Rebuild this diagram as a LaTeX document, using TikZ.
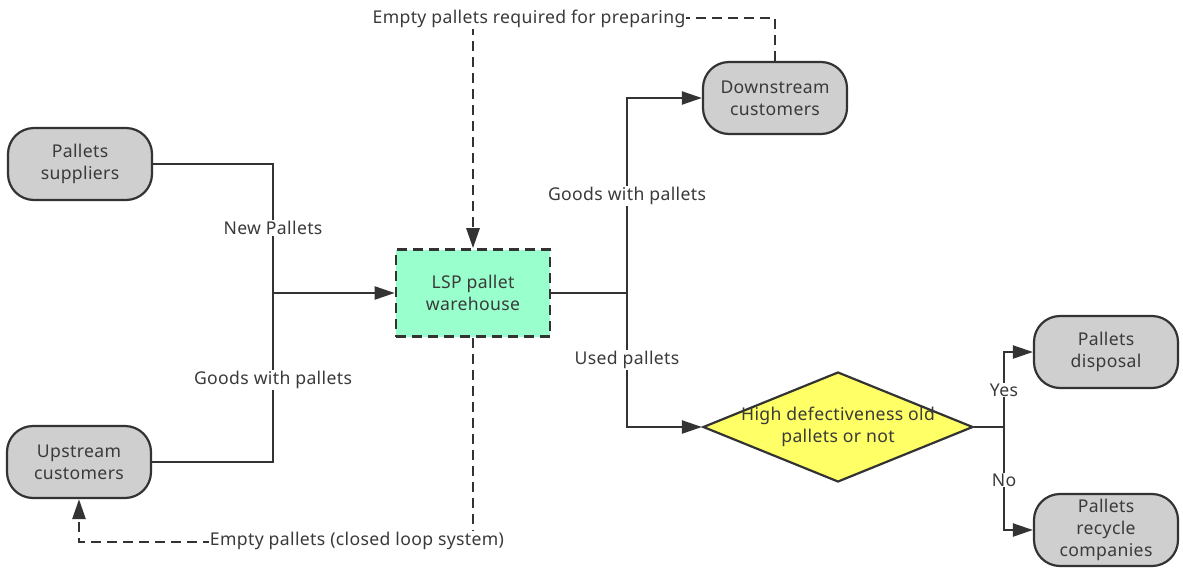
\documentclass[tikz,border=0pt]{standalone}
\usepackage{fontspec}
\setmainfont[LetterSpace=2]{Noto Sans}
\usetikzlibrary{arrows.meta,shapes.geometric,positioning}
\definecolor{linec}{HTML}{333333}
\definecolor{txtc}{HTML}{3A3A3A}
\definecolor{boxfill}{HTML}{CFCFCF}
\definecolor{mint}{HTML}{99FFCC}
\definecolor{yel}{HTML}{FFFF66}
\begin{document}
\begin{tikzpicture}[x=1pt,y=-1pt,
  every node/.style={font=\fontsize{17.6}{22}\selectfont, text=txtc},
  pill/.style={draw=linec, line width=2.2pt, fill=boxfill, rounded corners=26pt,
     minimum width=144pt, minimum height=72pt, align=center, inner sep=0pt},
  conn/.style={draw=linec, line width=2.2pt},
  arr/.style={conn, -{Triangle[length=20pt,width=13pt]}},
  dsh/.style={line width=2.6pt, dash pattern=on 10pt off 6pt},
  lbl/.style={fill=white, inner sep=1pt}
]
\useasboundingbox (0,0) rectangle (1183,568);

\node[pill] (sup) at (80,164) {Pallets\\suppliers};
\node[pill] (ups) at (79,462) {Upstream\\customers};
\node[pill] (down) at (775,98) {Downstream\\customers};
\node[pill] (disp) at (1106,352) {Pallets\\disposal};
\node[pill] (rec) at (1106,530) {Pallets\\recycle\\companies};
\node[draw=linec, dsh, fill=mint,
  minimum width=154pt, minimum height=87pt, align=center, inner sep=0pt] (lsp) at (473,293) {LSP pallet\\warehouse};
\node[diamond, draw=linec, line width=2.2pt, fill=yel, aspect=2.45,
  minimum width=270pt, minimum height=110pt, inner sep=0pt, align=center] (dia) at (838,427) {};
\node[align=center] at (dia.center) {High defectiveness old\\pallets or not};

\coordinate (jl) at (273,293);
\coordinate (jr) at (627,293);
\coordinate (jd) at (1004,427);

% left side
\draw[conn] (sup.east) -| (jl);
\draw[conn] (ups.east) -| (jl);
\draw[arr] (jl) -- (lsp.west);
\node[lbl] at (273,228) {New Pallets};
\node[lbl] at (273,380) {Goods with pallets};

% right side
\draw[conn] (lsp.east) -- (jr);
\draw[arr] (jr) |- (down.west);
\draw[arr] (jr) |- (dia.west);
\node[lbl] at (627,196) {Goods with pallets};
\node[lbl] at (627,360) {Used pallets};

% decision
\draw[conn] (dia.east) -- (jd);
\draw[arr] (jd) |- (disp.west);
\draw[arr] (jd) |- (rec.west);
\node[lbl] at (1004,390) {Yes};
\node[lbl] at (1004,480) {No};

% dashed returns
\draw[arr, dsh] (down.north) -- ++(0,-43) -| (lsp.north);
\node[lbl] at (529,19) {Empty pallets required for preparing};
\draw[arr, dsh] (lsp.south) -- ++(0,204) -| (ups.south);
\node[lbl] at (357,541) {Empty pallets (closed loop system)};
\end{tikzpicture}
\end{document}
